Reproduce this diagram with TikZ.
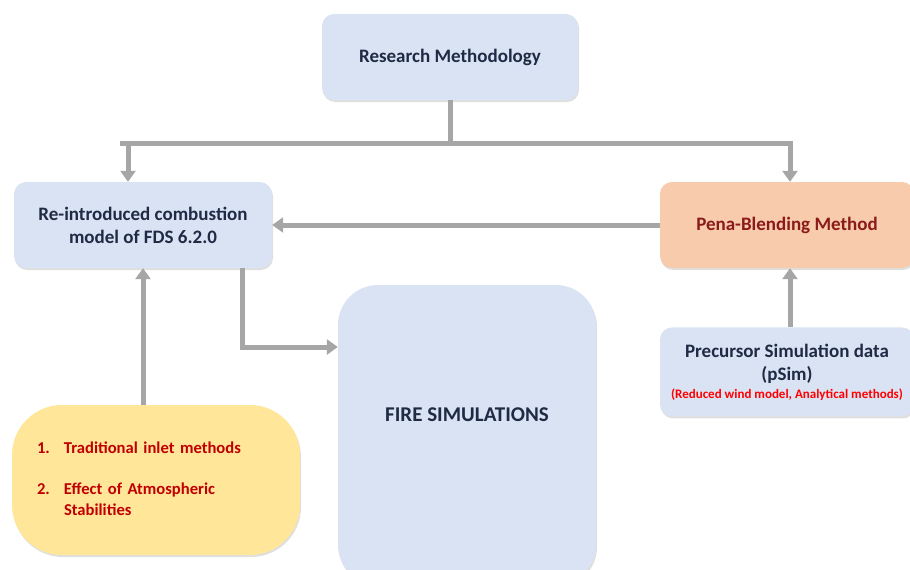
\documentclass[tikz,border=0pt]{standalone}
\usepackage{fontspec}
\setmainfont{Carlito}
\usepackage{tikz}
\usetikzlibrary{arrows.meta,positioning,shadows}

\definecolor{boxblue}{HTML}{DAE3F3}
\definecolor{boxpeach}{HTML}{F8CBAD}
\definecolor{boxyellow}{HTML}{FFE699}
\definecolor{txtnavy}{HTML}{1F2A44}
\definecolor{txtred}{HTML}{C00000}
\definecolor{txtmaroon}{HTML}{8B1A1A}
\definecolor{linkgray}{HTML}{A6A6A6}

\begin{document}
\begin{tikzpicture}[x=1pt,y=-1pt,node distance=5mm,
  box/.style={rounded corners=12pt,fill=boxblue,align=center,
    text=txtnavy,font=\fontsize{19}{23}\selectfont\bfseries,
    minimum width=256pt,minimum height=86pt,
    drop shadow={opacity=0.25,shadow xshift=1pt,shadow yshift=-2pt}},
  link/.style={draw=linkgray,line width=5pt,line join=miter,
    -{Triangle[length=11pt,width=15pt]}}]
  \useasboundingbox (0,0) rectangle (910,570);
  \node[box] (method) at (450,57) {Research Methodology};
  \node[box,minimum width=258pt] (fds) at (143,225)
    {Re-introduced combustion\\model of FDS 6.2.0};
  \node[box,fill=boxpeach,text=txtmaroon,minimum width=254pt] (pena) at (787,225)
    {Pena-Blending Method};
  \node[box,minimum width=254pt,minimum height=89pt,below=59pt of pena] (psim)
    {Precursor Simulation data\\(pSim)\\[-5pt]
     {\fontsize{13}{14}\selectfont\color{red}(Reduced wind model, Analytical methods)}};
  \node[box,rounded corners=40pt,minimum width=258pt,minimum height=300pt,
    text depth=40pt,font=\fontsize{21}{25}\selectfont\bfseries] (fire) at (467,435)
    {FIRE SIMULATIONS};
  \node[box,fill=boxyellow,rounded corners=50pt,minimum width=288pt,
    minimum height=150pt,text width=238pt,inner xsep=25pt,align=left,
    text=txtred,font=\fontsize{16.6}{21}\selectfont\bfseries] (inlet) at (156,480)
    {\begin{tabular}{@{}p{27pt}@{}l@{}}
       1. & Traditional inlet methods\\[20pt]
       2. & Effect of Atmospheric\\
          & Stabilities
     \end{tabular}};
  \draw[draw=linkgray,line width=5pt] (method.south) -- ++(0,43) coordinate (mid);
  \draw[link] ([xshift=-330pt]mid) -- (mid) -| ([xshift=3pt]pena.north);
  \draw[link] (mid) -| ([xshift=-15pt]fds.north);
  \draw[link] (pena.west) -- (fds.east);
  \draw[link] ([xshift=3pt]psim.north) -- ([xshift=3pt]pena.south);
  \draw[link] (inlet.north -| fds.south) -- (fds.south);
  \draw[link] ([xshift=99pt]fds.south) |- ([yshift=88pt]fire.west);
\end{tikzpicture}
\end{document}
